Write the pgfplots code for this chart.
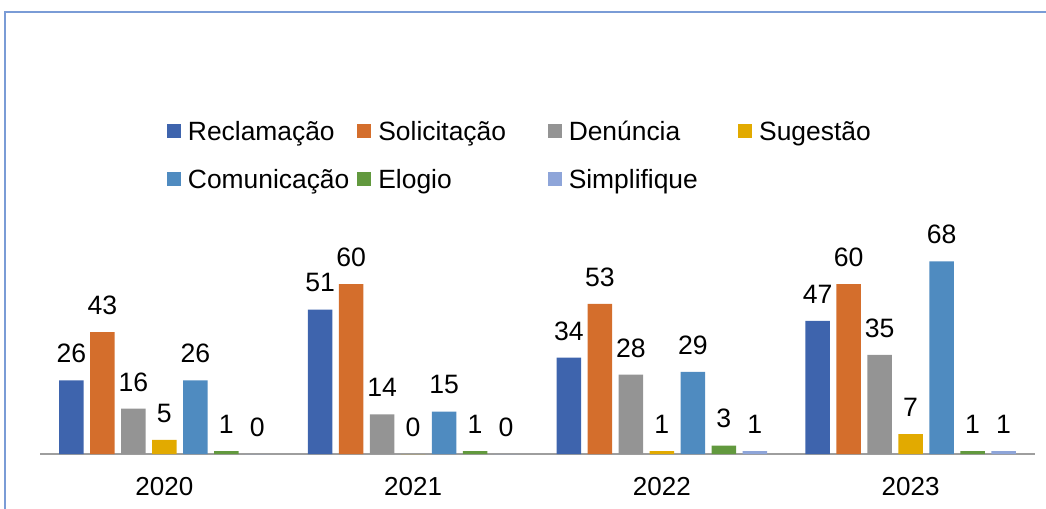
\documentclass[border=0pt]{standalone}
\usepackage{fontspec}
\setmainfont{Liberation Sans}
\usepackage{pgfplots}
\pgfplotsset{compat=1.18}
\definecolor{cRec}{HTML}{3E64AD}
\definecolor{cSol}{HTML}{D46E2C}
\definecolor{cDen}{HTML}{949494}
\definecolor{cSug}{HTML}{E2AA00}
\definecolor{cCom}{HTML}{4F8BC0}
\definecolor{cElo}{HTML}{62993E}
\definecolor{cSim}{HTML}{8EA5D9}
\definecolor{cBorder}{HTML}{7A9CD6}
\newcommand{\lgent}[1]{\makebox[84.7bp][l]{\rule[-3bp]{0pt}{14bp}#1}}
\begin{document}
\begin{tikzpicture}
\useasboundingbox (0,0) rectangle (523bp,-254.5bp);
\draw[line width=1bp, color=cBorder] (2.5bp,-254.5bp) -- (2.5bp,-6bp) -- (523bp,-6bp);
\begin{axis}[
 at={(20bp,-227bp)}, anchor=south west,
 scale only axis, width=497.5bp, height=127bp,
 xmin=-0.5, xmax=3.5, ymin=0, ymax=89.65,
 axis x line*=bottom, axis y line=none,
 axis line style={-, draw=black!38, line width=0.75bp},
 xtick={0,1,2,3}, xticklabels={2020,2021,2022,2023},
 major tick length=0pt,
 xticklabel style={font=\fontsize{13bp}{15bp}\selectfont, inner sep=0pt, anchor=north, yshift=-11.5bp},
 ytick=\empty,
 ybar=3.25bp, bar width=12.25bp,
 nodes near coords,
 /pgf/number format/assume math mode=true,
 every node near coord/.append style={font=\fontsize{13.3bp}{15bp}\selectfont, inner sep=0pt, anchor=south, yshift=8.5bp, text=black},
 sqlegend/.style={legend image code/.code={\fill[##1] (0bp,-3.5bp) rectangle (7bp,3.5bp);}},
 legend columns=4,
 legend style={draw=none, fill=none, inner sep=0pt, outer sep=0pt, at={(0.1276,1.321)}, anchor=north west,
   font=\fontsize{13.2bp}{15bp}\selectfont, row sep=11.5bp, nodes={inner sep=0pt},
   /tikz/every odd column/.append style={column sep=3.5bp},
   /tikz/every even column/.append style={column sep=0pt}},
]
\addplot[fill=cRec, draw=none, sqlegend] coordinates {(0,26) (1,51) (2,34) (3,47)};
\addplot[fill=cSol, draw=none, sqlegend] coordinates {(0,43) (1,60) (2,53) (3,60)};
\addplot[fill=cDen, draw=none, sqlegend] coordinates {(0,16) (1,14) (2,28) (3,35)};
\addplot[fill=cSug, draw=none, sqlegend] coordinates {(0,5) (1,0) (2,1) (3,7)};
\addplot[fill=cCom, draw=none, sqlegend] coordinates {(0,26) (1,15) (2,29) (3,68)};
\addplot[fill=cElo, draw=none, sqlegend] coordinates {(0,1) (1,1) (2,3) (3,1)};
\addplot[fill=cSim, draw=none, sqlegend] coordinates {(0,0) (1,0) (2,1) (3,1)};
\legend{\lgent{Reclamação},\lgent{Solicitação},\lgent{Denúncia},\lgent{Sugestão},\lgent{Comunicação},\lgent{Elogio},\lgent{Simplifique}}
\end{axis}
\end{tikzpicture}
\end{document}
